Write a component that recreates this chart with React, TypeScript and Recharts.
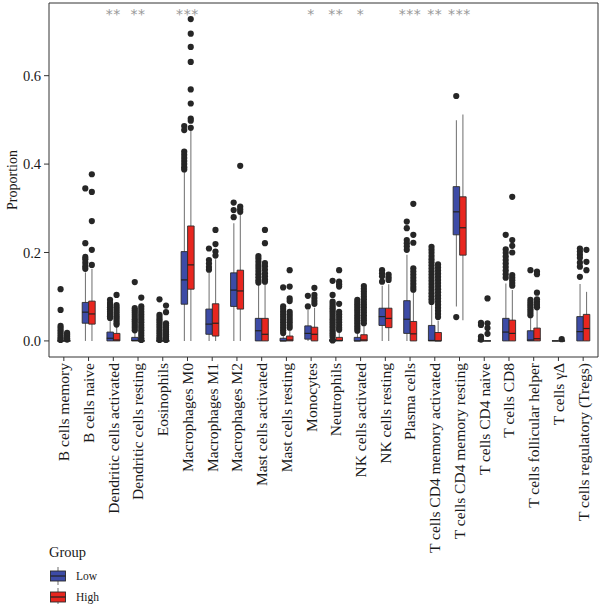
import { ComposedChart, Bar, Scatter, XAxis, YAxis, ReferenceArea } from "recharts";

// Immune cell fractions by risk group, drawn as grouped box plots.
const CELL_TYPES = [
  "B cells memory",
  "B cells naive",
  "Dendritic cells activated",
  "Dendritic cells resting",
  "Eosinophils",
  "Macrophages M0",
  "Macrophages M1",
  "Macrophages M2",
  "Mast cells activated",
  "Mast cells resting",
  "Monocytes",
  "Neutrophils",
  "NK cells activated",
  "NK cells resting",
  "Plasma cells",
  "T cells CD4 memory activated",
  "T cells CD4 memory resting",
  "T cells CD4 naive",
  "T cells CD8",
  "T cells follicular helper",
  "T cells γΔ",
  "T cells regulatory (Tregs)",
];

// [lower whisker, q1, median, q3, upper whisker]
type Stat = [number, number, number, number, number];

const LOW_STATS: Stat[] = [
  [0, 0, 0, 0, 0],
  [0, 0.04, 0.065, 0.087, 0.155],
  [0, 0, 0.006, 0.02, 0.048],
  [0, 0, 0.001, 0.008, 0.019],
  [0, 0, 0, 0, 0],
  [0, 0.083, 0.138, 0.202, 0.382],
  [0, 0.015, 0.038, 0.072, 0.155],
  [0, 0.078, 0.115, 0.154, 0.266],
  [0, 0, 0.023, 0.051, 0.127],
  [0, 0, 0, 0.006, 0.014],
  [0, 0.004, 0.017, 0.034, 0.07],
  [0, 0, 0, 0.003, 0.007],
  [0, 0, 0, 0.008, 0.018],
  [0, 0.035, 0.055, 0.074, 0.125],
  [0, 0.017, 0.049, 0.091, 0.195],
  [0, 0, 0.001, 0.035, 0.082],
  [0.078, 0.24, 0.292, 0.349, 0.499],
  [0, 0, 0, 0, 0],
  [0, 0, 0.02, 0.051, 0.13],
  [0, 0, 0.002, 0.023, 0.055],
  [0, 0, 0, 0, 0],
  [0, 0, 0.021, 0.055, 0.129],
];

const HIGH_STATS: Stat[] = [
  [0, 0, 0, 0, 0],
  [0, 0.038, 0.061, 0.09, 0.163],
  [0, 0, 0.002, 0.017, 0.034],
  [0, 0, 0, 0, 0],
  [0, 0, 0, 0, 0],
  [0, 0.117, 0.172, 0.26, 0.475],
  [0, 0.011, 0.04, 0.084, 0.185],
  [0, 0.072, 0.113, 0.16, 0.285],
  [0, 0, 0.015, 0.051, 0.13],
  [0, 0, 0.002, 0.011, 0.025],
  [0, 0, 0.015, 0.031, 0.075],
  [0, 0, 0.001, 0.008, 0.018],
  [0, 0, 0.002, 0.014, 0.034],
  [0, 0.03, 0.051, 0.074, 0.128],
  [0, 0, 0.016, 0.044, 0.112],
  [0, 0, 0, 0.019, 0.045],
  [0.047, 0.194, 0.256, 0.326, 0.512],
  [0, 0, 0, 0, 0],
  [0, 0, 0.017, 0.047, 0.115],
  [0, 0, 0.005, 0.029, 0.072],
  [0, 0, 0, 0, 0],
  [0, 0, 0.028, 0.06, 0.111],
];

const LOW_OUTLIERS: number[][] = [
  [0.117, 0.07, 0.034, 0.029, 0.024, 0.019, 0.014, 0.009, 0.005, 0.002],
  [0.345, 0.221, 0.19, 0.185, 0.177, 0.169, 0.163],
  [0.093, 0.086, 0.081, 0.076, 0.071, 0.066, 0.061, 0.056, 0.052],
  [0.133, 0.074, 0.069, 0.064, 0.059, 0.054, 0.049, 0.044, 0.039, 0.034, 0.029, 0.024],
  [0.094, 0.059, 0.054, 0.049, 0.044, 0.039, 0.034, 0.029, 0.024, 0.019, 0.014, 0.009, 0.005, 0.002],
  [0.486, 0.477, 0.428, 0.421, 0.414, 0.407, 0.4, 0.393, 0.388],
  [0.209, 0.183, 0.175, 0.167, 0.161],
  [0.313, 0.296, 0.28],
  [0.192, 0.186, 0.179, 0.172, 0.165, 0.158, 0.151, 0.144, 0.137, 0.132],
  [0.121, 0.078, 0.072, 0.066, 0.06, 0.054, 0.048, 0.042, 0.036, 0.03, 0.024, 0.018],
  [0.102, 0.078],
  [0.136, 0.104, 0.089, 0.084, 0.079, 0.074, 0.069, 0.064, 0.059, 0.054, 0.049, 0.044, 0.039, 0.034, 0.029, 0.024, 0.019, 0.014, 0.009, 0.001],
  [0.093, 0.088, 0.083, 0.078, 0.073, 0.068, 0.063, 0.058, 0.053, 0.048, 0.043, 0.038, 0.033, 0.028, 0.023],
  [0.16, 0.153, 0.146, 0.134],
  [0.27, 0.255, 0.228, 0.221, 0.214, 0.206],
  [0.213, 0.206, 0.199, 0.192, 0.185, 0.178, 0.171, 0.164, 0.157, 0.15, 0.143, 0.136, 0.129, 0.122, 0.115, 0.108, 0.101, 0.094, 0.088],
  [0.554, 0.054],
  [0.041, 0.036, 0.01, 0.003],
  [0.24, 0.207, 0.199, 0.191, 0.183, 0.175, 0.167, 0.159, 0.151, 0.143],
  [0.16, 0.093, 0.088, 0.083, 0.078, 0.073, 0.068, 0.063, 0.058],
  [],
  [0.209, 0.202, 0.195, 0.188, 0.177, 0.168, 0.145],
];

const HIGH_OUTLIERS: number[][] = [
  [0.018, 0.014, 0.01, 0.006, 0.003],
  [0.377, 0.337, 0.271, 0.206, 0.172],
  [0.104, 0.081, 0.076, 0.071, 0.066, 0.061, 0.056, 0.051, 0.046, 0.041, 0.037],
  [0.098, 0.078, 0.072, 0.066, 0.06, 0.054, 0.048, 0.042, 0.036, 0.03, 0.024, 0.018, 0.012, 0.006, 0.002],
  [0.08, 0.065, 0.04, 0.035, 0.03, 0.025, 0.02, 0.015, 0.01, 0.005, 0.002],
  [0.728, 0.695, 0.665, 0.631, 0.569, 0.537, 0.503, 0.498, 0.482],
  [0.251, 0.219, 0.202, 0.193],
  [0.396, 0.304, 0.298, 0.292],
  [0.251, 0.221, 0.176, 0.169, 0.161, 0.153, 0.146, 0.139, 0.134],
  [0.16, 0.123, 0.096, 0.09, 0.066, 0.06, 0.054, 0.048, 0.042, 0.036, 0.03],
  [0.12, 0.104, 0.097, 0.09, 0.084],
  [0.16, 0.134, 0.128, 0.123, 0.084, 0.066, 0.06, 0.054, 0.048, 0.042, 0.036, 0.03, 0.025],
  [0.124, 0.118, 0.112, 0.106, 0.1, 0.094, 0.088, 0.082, 0.076, 0.07, 0.064, 0.058, 0.052, 0.046, 0.04],
  [0.15, 0.144, 0.138],
  [0.31, 0.24, 0.222, 0.164, 0.157, 0.15, 0.143, 0.136, 0.129, 0.122, 0.116],
  [0.173, 0.166, 0.159, 0.152, 0.145, 0.138, 0.131, 0.124, 0.117, 0.11, 0.103, 0.096, 0.089, 0.082, 0.075, 0.068, 0.061, 0.054],
  [],
  [0.096, 0.04, 0.029, 0.016],
  [0.326, 0.228, 0.215, 0.2, 0.149, 0.143, 0.137, 0.131, 0.125],
  [0.157, 0.151, 0.109, 0.094, 0.088, 0.082, 0.076],
  [0.004],
  [0.206, 0.179, 0.16],
];

// Wilcoxon significance marks per cell type
const SIG_LABELS = [
  "", "", "**", "**", "", "***", "", "", "", "", "*",
  "**", "*", "", "***", "**", "***", "", "", "", "", "",
];

const Y_TICKS = [0, 0.2, 0.4, 0.6];
const Y_DOMAIN: [number, number] = [-0.0364, 0.7644];
const SIG_Y = 0.744;

const LOW_COLOR = "#3d4ba6";
const HIGH_COLOR = "#e8261f";
const FONT = "'Liberation Serif', 'Times New Roman', serif";

const WIDTH = 600;
const HEIGHT = 604;
const MARGIN = { top: 3, right: 2, bottom: 0, left: 0 };
const Y_AXIS_W = 49;
const PLOT_H = 354;
const PLOT_W = WIDTH - MARGIN.left - MARGIN.right - Y_AXIS_W;
// discrete axis expansion of 0.6 categories on each side
const X_DOMAIN: [number, number] = [-0.6, CELL_TYPES.length - 0.4];
const CAT_PAD = (PLOT_W * 0.1) / (X_DOMAIN[1] - X_DOMAIN[0]);
const BOX_W = 6.5;
const DODGE = 0.132;

const rows = CELL_TYPES.map((name, i) => ({
  name,
  lowBox: [LOW_STATS[i][1], LOW_STATS[i][3]],
  highBox: [HIGH_STATS[i][1], HIGH_STATS[i][3]],
  lowWhisker: [LOW_STATS[i][0], LOW_STATS[i][4]],
  highWhisker: [HIGH_STATS[i][0], HIGH_STATS[i][4]],
}));

const lowMedians = LOW_STATS.map((s, i) => ({ x: i - DODGE, y: s[2] }));
const highMedians = HIGH_STATS.map((s, i) => ({ x: i + DODGE, y: s[2] }));
const lowPoints = LOW_OUTLIERS.flatMap((vals, i) => vals.map((y) => ({ x: i - DODGE, y })));
const highPoints = HIGH_OUTLIERS.flatMap((vals, i) => vals.map((y) => ({ x: i + DODGE, y })));
const sigPoints = SIG_LABELS.map((label, i) => ({ x: i, y: SIG_Y, label })).filter((d) => d.label);

function BoxShape(props: any) {
  const { x, y, width, height, fill } = props;
  const top = Math.min(y, y + height);
  const h = Math.abs(height);
  return (
    <path
      d={`M${x},${top}h${width}v${h}h${-width}Z`}
      fill={fill}
      stroke="#2b2b2b"
      strokeWidth={0.9}
    />
  );
}

function WhiskerShape(props: any) {
  const { x, y, width, height } = props;
  if (!height) return null;
  const cx = x + width / 2;
  return <line x1={cx} x2={cx} y1={y} y2={y + height} stroke="#7a7a7a" strokeWidth={1.1} />;
}

function MedianShape(props: any) {
  const { cx, cy } = props;
  return (
    <line x1={cx - BOX_W / 2} x2={cx + BOX_W / 2} y1={cy} y2={cy} stroke="#222" strokeWidth={1.2} />
  );
}

function OutlierShape(props: any) {
  const { cx, cy } = props;
  return <circle cx={cx} cy={cy} r={3.1} fill="#262626" />;
}

function SigShape(props: any) {
  const { cx, cy, payload } = props;
  return (
    <text
      x={cx}
      y={cy + 6.5}
      textAnchor="middle"
      fontSize={14}
      letterSpacing={0.6}
      fill="#999999"
      fontFamily="'DejaVu Sans', sans-serif"
    >
      {payload.label}
    </text>
  );
}

function CellTick(props: any) {
  const { x, y, payload } = props;
  return (
    <text
      x={x}
      y={y}
      transform={`rotate(-90 ${x} ${y})`}
      textAnchor="end"
      dy="0.35em"
      fontSize={15.5}
      fontFamily={FONT}
      fill="#1a1a1a"
    >
      {payload.value}
    </text>
  );
}

function LegendKey({ color }: { color: string }) {
  return (
    <svg width={18} height={18} style={{ display: "block" }}>
      <line x1={9} x2={9} y1={0} y2={18} stroke="#7a7a7a" strokeWidth={1.1} />
      <rect x={1.5} y={4} width={15} height={10} fill={color} stroke="#2b2b2b" strokeWidth={0.9} />
      <line x1={1.5} x2={16.5} y1={9} y2={9} stroke="#222" strokeWidth={1.2} />
    </svg>
  );
}

export default function App() {
  return (
    <div style={{ position: "absolute", left: 0, top: 0, width: WIDTH, height: HEIGHT, background: "#fff" }}>
      <ComposedChart width={WIDTH} height={HEIGHT} data={rows} margin={MARGIN} barGap={0}>
        <XAxis
          xAxisId="box"
          dataKey="name"
          interval={0}
          padding={{ left: CAT_PAD, right: CAT_PAD }}
          height={HEIGHT - MARGIN.top - PLOT_H}
          tick={<CellTick />}
          tickSize={4}
          tickMargin={2}
          tickLine={{ stroke: "#333" }}
          axisLine={false}
        />
        <XAxis xAxisId="whisker" dataKey="name" hide padding={{ left: CAT_PAD, right: CAT_PAD }} />
        <XAxis xAxisId="num" dataKey="x" type="number" domain={X_DOMAIN} hide allowDataOverflow />
        <YAxis
          type="number"
          domain={Y_DOMAIN}
          ticks={Y_TICKS}
          allowDataOverflow
          width={Y_AXIS_W}
          tickFormatter={(v: number) => v.toFixed(1)}
          tick={{ fontSize: 14.5, fill: "#1a1a1a", fontFamily: FONT }}
          tickSize={5}
          tickMargin={3}
          tickLine={{ stroke: "#333" }}
          axisLine={false}
          label={(p: any) => {
            const vb = p.viewBox;
            const cx = 12;
            const cy = vb.y + vb.height / 2;
            return (
              <text
                x={cx}
                y={cy}
                transform={`rotate(-90 ${cx} ${cy})`}
                textAnchor="middle"
                dy="0.35em"
                fontSize={14}
                fontFamily={FONT}
                fill="#1a1a1a"
              >
                Proportion
              </text>
            );
          }}
        />
        <Bar xAxisId="whisker" dataKey="lowWhisker" barSize={BOX_W} shape={<WhiskerShape />} isAnimationActive={false} />
        <Bar xAxisId="whisker" dataKey="highWhisker" barSize={BOX_W} shape={<WhiskerShape />} isAnimationActive={false} />
        <Bar xAxisId="box" dataKey="lowBox" barSize={BOX_W} fill={LOW_COLOR} shape={<BoxShape />} isAnimationActive={false} />
        <Bar xAxisId="box" dataKey="highBox" barSize={BOX_W} fill={HIGH_COLOR} shape={<BoxShape />} isAnimationActive={false} />
        <Scatter xAxisId="num" data={lowMedians} dataKey="y" shape={<MedianShape />} isAnimationActive={false} />
        <Scatter xAxisId="num" data={highMedians} dataKey="y" shape={<MedianShape />} isAnimationActive={false} />
        <Scatter xAxisId="num" data={lowPoints} dataKey="y" shape={<OutlierShape />} isAnimationActive={false} />
        <Scatter xAxisId="num" data={highPoints} dataKey="y" shape={<OutlierShape />} isAnimationActive={false} />
        <Scatter xAxisId="num" data={sigPoints} dataKey="y" shape={<SigShape />} isAnimationActive={false} />
        <ReferenceArea
          xAxisId="num"
          x1={X_DOMAIN[0]}
          x2={X_DOMAIN[1]}
          y1={Y_DOMAIN[0]}
          y2={Y_DOMAIN[1]}
          fill="none"
          stroke="#333"
          strokeWidth={1}
          ifOverflow="visible"
        />
      </ComposedChart>
      <div style={{ position: "absolute", left: 49, top: 544, fontFamily: FONT, color: "#1a1a1a" }}>
        <div style={{ fontSize: 14.5, lineHeight: "16px", marginBottom: 5 }}>Group</div>
        {[
          { label: "Low", color: LOW_COLOR },
          { label: "High", color: HIGH_COLOR },
        ].map((g) => (
          <div key={g.label} style={{ display: "flex", alignItems: "center", height: 21 }}>
            <LegendKey color={g.color} />
            <span style={{ fontSize: 11.5, marginLeft: 9 }}>{g.label}</span>
          </div>
        ))}
      </div>
    </div>
  );
}
